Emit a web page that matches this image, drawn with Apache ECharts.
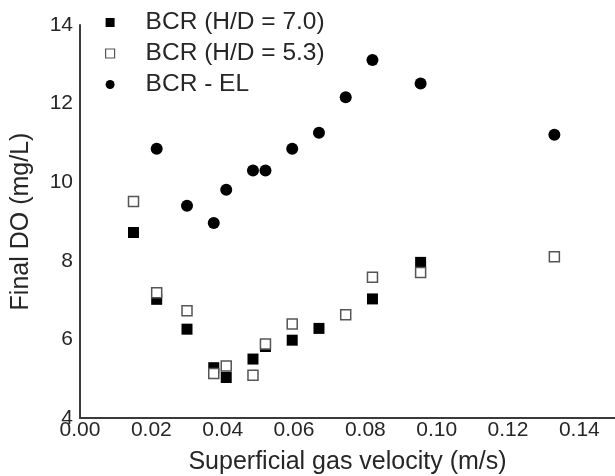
<!DOCTYPE html>
<html>
<head>
<meta charset="utf-8">
<script src="https://cdn.jsdelivr.net/npm/echarts@6/dist/echarts.min.js"></script>
<style>
  html, body {
    margin: 0;
    padding: 0;
    background: #fff;
  }
  #chart {
    width: 615px;
    height: 476px;
  }
</style>
</head>
<body>
<div id="chart"></div>
<script>
// BCR (H/D = 7.0) - filled squares
const hd70X = [0.015, 0.0215, 0.030, 0.0375, 0.041, 0.0485, 0.052, 0.0595, 0.067, 0.082, 0.0955]
const hd70Y = [8.72, 7.02, 6.26, 5.28, 5.03, 5.50, 5.82, 5.98, 6.28, 7.03, 7.96]
// BCR (H/D = 5.3) - open squares
const hd53X = [0.015, 0.0215, 0.030, 0.0375, 0.041, 0.0485, 0.052, 0.0595, 0.0745, 0.082, 0.0955, 0.133]
const hd53Y = [9.51, 7.19, 6.73, 5.13, 5.32, 5.09, 5.88, 6.39, 6.63, 7.58, 7.70, 8.10]
// BCR - EL - filled circles
const elX = [0.0215, 0.030, 0.0375, 0.041, 0.0485, 0.052, 0.0595, 0.067, 0.0745, 0.082, 0.0955, 0.133]
const elY = [10.85, 9.40, 8.96, 9.81, 10.30, 10.30, 10.85, 11.26, 12.16, 13.11, 12.51, 11.21]

const seriesNames = ['BCR (H/D = 7.0)', 'BCR (H/D = 5.3)', 'BCR - EL']

function pairs(xs, ys) {
  return xs.map((x, i) => [x, ys[i]])
}

const textColor = '#262626'
const lineColor = '#3a3a3a'
const fontFamily = '"Liberation Sans", Arial, sans-serif'

const myChart = echarts.init(document.getElementById('chart'))
myChart.setOption({
  animation: false,
  textStyle: {
    fontFamily: fontFamily,
    color: textColor
  },
  legend: {
    orient: 'vertical',
    left: 105,
    top: 10,
    padding: 0,
    itemGap: 6,
    itemWidth: 9,
    itemHeight: 9,
    textStyle: {
      fontSize: 24.5,
      color: textColor,
      padding: [0, 0, 0, 26]
    },
    data: [
      { name: seriesNames[0], icon: 'rect', itemStyle: { color: '#000', opacity: 1 } },
      { name: seriesNames[1], icon: 'rect', itemStyle: { color: '#fff', borderColor: '#555', borderWidth: 1.2, opacity: 1 } },
      { name: seriesNames[2], icon: 'circle', itemStyle: { color: '#000', opacity: 1 } }
    ]
  },
  grid: {
    left: 80,
    right: 0,
    top: 25,
    bottom: 58,
    outerBoundsMode: 'none'
  },
  xAxis: {
    type: 'value',
    min: 0,
    max: 0.15,
    interval: 0.02,
    name: 'Superficial gas velocity (m/s)',
    nameLocation: 'middle',
    nameGap: 32,
    nameTextStyle: {
      fontSize: 25,
      color: textColor
    },
    splitLine: { show: false },
    axisTick: { show: false },
    axisLine: {
      lineStyle: { color: lineColor, width: 2 }
    },
    axisLabel: {
      fontSize: 21,
      color: textColor,
      margin: 2,
      showMaxLabel: false,
      formatter: (v) => v.toFixed(2)
    }
  },
  yAxis: {
    type: 'value',
    min: 4,
    max: 14,
    interval: 2,
    name: 'Final DO (mg/L)',
    nameLocation: 'middle',
    nameGap: 46,
    nameTextStyle: {
      fontSize: 25,
      color: textColor
    },
    splitLine: { show: false },
    axisTick: { show: false },
    axisLine: {
      show: true,
      lineStyle: { color: lineColor, width: 2 }
    },
    axisLabel: {
      fontSize: 21,
      color: textColor,
      margin: 7
    }
  },
  series: [
    {
      name: seriesNames[0],
      type: 'scatter',
      symbol: 'rect',
      symbolSize: 11,
      itemStyle: { color: '#000', opacity: 1 },
      data: pairs(hd70X, hd70Y)
    },
    {
      name: seriesNames[1],
      type: 'scatter',
      symbol: 'rect',
      symbolSize: 10,
      itemStyle: { color: '#fff', borderColor: '#555', borderWidth: 1.5, opacity: 1 },
      data: pairs(hd53X, hd53Y)
    },
    {
      name: seriesNames[2],
      type: 'scatter',
      symbol: 'circle',
      symbolSize: 12,
      itemStyle: { color: '#000', opacity: 1 },
      data: pairs(elX, elY)
    }
  ]
})
</script>
</body>
</html>
